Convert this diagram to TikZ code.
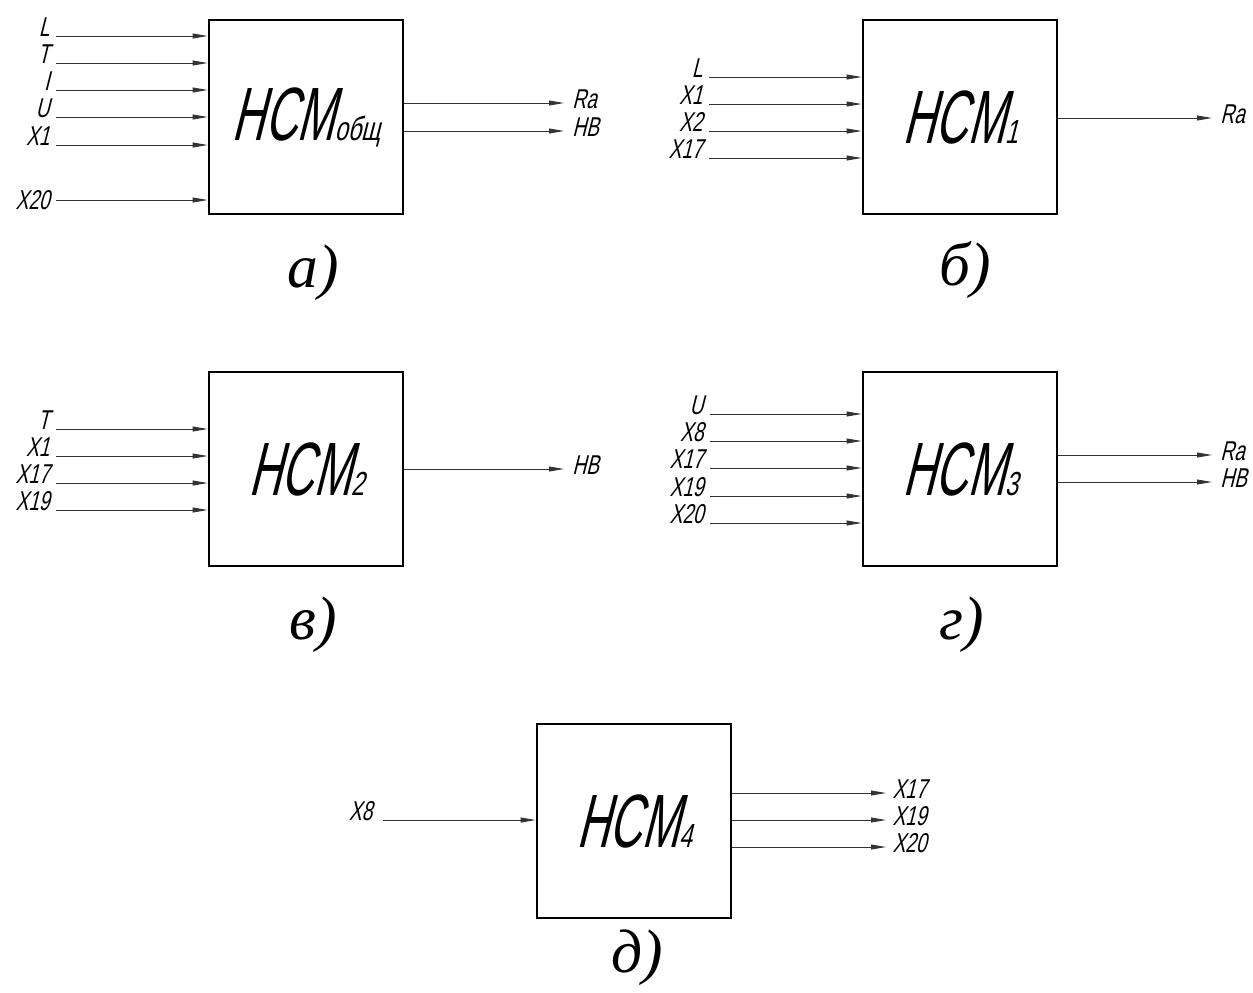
\documentclass[tikz,border=0pt]{standalone}
\usepackage{fontspec}
\setmainfont{Liberation Serif}
\newfontfamily\gost[FakeSlant=0.25,FakeStretch=0.7]{Liberation Sans}
\newfontfamily\gostbig[FakeSlant=0.25,FakeStretch=0.6]{Liberation Sans}
\usetikzlibrary{arrows.meta, positioning}
\newcommand{\NSM}[1]{НСМ{\gost\fontsize{19}{19}\selectfont #1}}

\begin{document}
\begin{tikzpicture}[
    x=0.02cm, y=-0.02cm,
    nsm/.style={draw, line width=1.6pt, minimum width=3.88cm, minimum height=3.88cm, inner sep=0pt, font=\gostbig\fontsize{43}{43}\selectfont},
    sig/.style={font=\gost\fontsize{15.5}{17}\selectfont, inner sep=0pt},
    inp/.style={sig, anchor=base east, xshift=-3.5pt},
    outp/.style={sig, anchor=west, xshift=4.5pt, yshift=2.3pt},
    wire/.style={-{Triangle[length=8.5pt, width=2.8pt]}, line width=0.5pt, black!80},
    capt/.style={font=\itshape\fontsize{35}{37}\selectfont},
]
  \useasboundingbox (0,0) rectangle (1253,992);

  % a) general model
  \node[nsm] (nsm0) at (306,117) {\NSM{общ}};
  \coordinate (a1) at (56,36);  \node[inp] (a1t) at (a1) {L};
  \coordinate (a2) at (56,63);  \node[inp] (a2t) at (a2) {T};
  \coordinate (a3) at (56,90);  \node[inp] (a3t) at (a3) {I};
  \coordinate (a4) at (56,117); \node[inp] (a4t) at (a4) {U};
  \coordinate (a5) at (56,145); \node[inp] (a5t) at (a5) {X1};
  \coordinate (a6) at (56,200); \node[sig, anchor=east, xshift=-3.5pt] (a6t) at (a6) {X20};
  \draw[wire] (a1) -- (a1 -| nsm0.west);
  \draw[wire] (a2) -- (a2 -| nsm0.west);
  \draw[wire] (a3) -- (a3 -| nsm0.west);
  \draw[wire] (a4) -- (a4 -| nsm0.west);
  \draw[wire] (a5) -- (a5 -| nsm0.west);
  \draw[wire] (a6) -- (a6 -| nsm0.west);
  \coordinate (ao1) at (564,103); \node[outp] (ao1t) at (ao1) {Ra};
  \coordinate (ao2) at (564,131); \node[outp] (ao2t) at (ao2) {HB};
  \draw[wire] (ao1 -| nsm0.east) -- (ao1);
  \draw[wire] (ao2 -| nsm0.east) -- (ao2);
  \node[capt] (capa) at (313,273) {а)};

  % b) model 1
  \node[nsm] (nsm1) at (960,117) {\NSM{1}};
  \coordinate (b1) at (709,77);  \node[inp] (b1t) at (b1) {L};
  \coordinate (b2) at (709,104); \node[inp] (b2t) at (b2) {X1};
  \coordinate (b3) at (709,131); \node[inp] (b3t) at (b3) {X2};
  \coordinate (b4) at (709,158); \node[inp] (b4t) at (b4) {X17};
  \draw[wire] (b1) -- (b1 -| nsm1.west);
  \draw[wire] (b2) -- (b2 -| nsm1.west);
  \draw[wire] (b3) -- (b3 -| nsm1.west);
  \draw[wire] (b4) -- (b4 -| nsm1.west);
  \coordinate (bo1) at (1212,118); \node[outp] (bo1t) at (bo1) {Ra};
  \draw[wire] (bo1 -| nsm1.east) -- (bo1);
  \node[capt] (capb) at (965,270) {б)};

  % v) model 2
  \node[nsm] (nsm2) at (306,469) {\NSM{2}};
  \coordinate (c1) at (56,429); \node[inp] (c1t) at (c1) {T};
  \coordinate (c2) at (56,456); \node[inp] (c2t) at (c2) {X1};
  \coordinate (c3) at (56,483); \node[inp] (c3t) at (c3) {X17};
  \coordinate (c4) at (56,510); \node[inp] (c4t) at (c4) {X19};
  \draw[wire] (c1) -- (c1 -| nsm2.west);
  \draw[wire] (c2) -- (c2 -| nsm2.west);
  \draw[wire] (c3) -- (c3 -| nsm2.west);
  \draw[wire] (c4) -- (c4 -| nsm2.west);
  \coordinate (co1) at (564,469); \node[outp] (co1t) at (co1) {HB};
  \draw[wire] (co1 -| nsm2.east) -- (co1);
  \node[capt] (capc) at (313,625) {в)};

  % g) model 3
  \node[nsm] (nsm3) at (960,469) {\NSM{3}};
  \coordinate (d1) at (710,414); \node[inp] (d1t) at (d1) {U};
  \coordinate (d2) at (710,441); \node[inp] (d2t) at (d2) {X8};
  \coordinate (d3) at (710,468); \node[inp] (d3t) at (d3) {X17};
  \coordinate (d4) at (710,496); \node[inp] (d4t) at (d4) {X19};
  \coordinate (d5) at (710,523); \node[inp] (d5t) at (d5) {X20};
  \draw[wire] (d1) -- (d1 -| nsm3.west);
  \draw[wire] (d2) -- (d2 -| nsm3.west);
  \draw[wire] (d3) -- (d3 -| nsm3.west);
  \draw[wire] (d4) -- (d4 -| nsm3.west);
  \draw[wire] (d5) -- (d5 -| nsm3.west);
  \coordinate (do1) at (1212,455); \node[outp] (do1t) at (do1) {Ra};
  \coordinate (do2) at (1212,482); \node[outp] (do2t) at (do2) {HB};
  \draw[wire] (do1 -| nsm3.east) -- (do1);
  \draw[wire] (do2 -| nsm3.east) -- (do2);
  \node[capt] (capd) at (962,625) {г)};

  % d) model 4
  \node[nsm] (nsm4) at (634,821) {\NSM{4}};
  \coordinate (e1) at (383,820); \node[sig, anchor=base east, xshift=-6pt] (e1t) at (e1) {X8};
  \draw[wire] (e1) -- (e1 -| nsm4.west);
  \coordinate (eo1) at (886,793); \node[outp, xshift=-1pt] (eo1t) at (eo1) {X17};
  \coordinate (eo2) at (886,820); \node[outp, xshift=-1pt] (eo2t) at (eo2) {X19};
  \coordinate (eo3) at (886,847); \node[outp, xshift=-1pt] (eo3t) at (eo3) {X20};
  \draw[wire] (eo1 -| nsm4.east) -- (eo1);
  \draw[wire] (eo2 -| nsm4.east) -- (eo2);
  \draw[wire] (eo3 -| nsm4.east) -- (eo3);
  \node[capt] (cape) at (637,958) {д)};
\end{tikzpicture}
\end{document}
